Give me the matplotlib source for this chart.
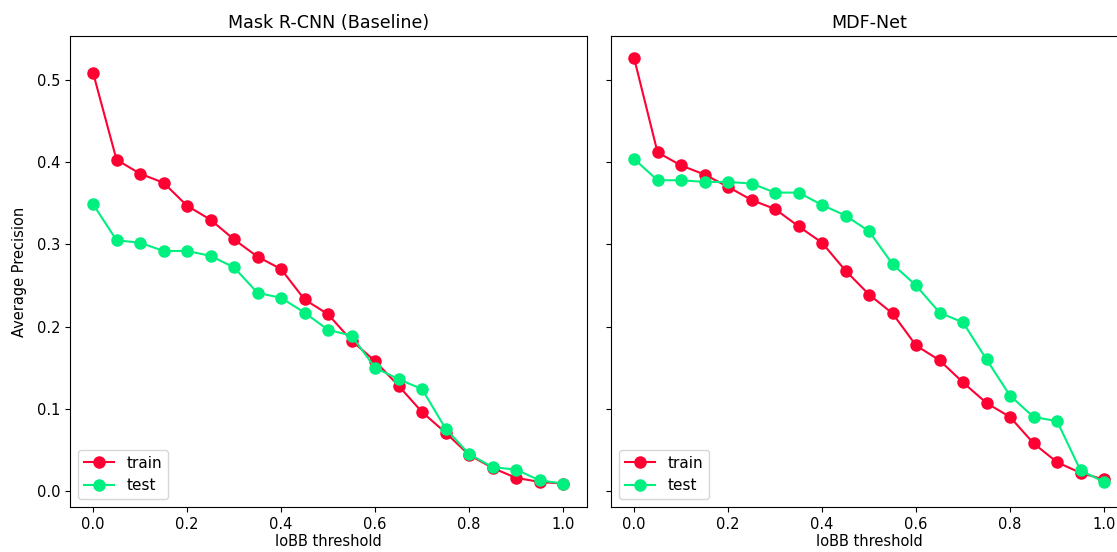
import matplotlib
matplotlib.use("Agg")
import matplotlib.pyplot as plt
import numpy as np

plt.rcParams.update({"font.size": 10.5})

thresholds = np.round(np.arange(0, 1.0001, 0.05), 2)

baseline_train = [0.509, 0.403, 0.386, 0.375, 0.347, 0.330, 0.306, 0.285, 0.270, 0.233,
                  0.215, 0.183, 0.158, 0.128, 0.096, 0.071, 0.044, 0.028, 0.016, 0.011, 0.009]
baseline_test = [0.349, 0.305, 0.302, 0.292, 0.292, 0.286, 0.272, 0.241, 0.235, 0.217,
                 0.196, 0.189, 0.150, 0.136, 0.124, 0.076, 0.045, 0.029, 0.026, 0.013, 0.009]
mdf_train = [0.527, 0.412, 0.396, 0.385, 0.370, 0.354, 0.343, 0.322, 0.302, 0.268,
             0.239, 0.216, 0.177, 0.159, 0.132, 0.107, 0.090, 0.058, 0.035, 0.022, 0.014]
mdf_test = [0.404, 0.378, 0.378, 0.376, 0.376, 0.374, 0.363, 0.363, 0.348, 0.335,
            0.316, 0.276, 0.250, 0.217, 0.205, 0.160, 0.116, 0.090, 0.085, 0.025, 0.011]

panels = [
    ("Mask R-CNN (Baseline)", baseline_train, baseline_test),
    ("MDF-Net", mdf_train, mdf_test),
]

train_color = "#ff0033"
test_color = "#00f080"

fig = plt.figure(figsize=(11.17, 5.52), dpi=100)
ax_w, ax_h, ax_b = 517 / 1117, 471 / 552, 45 / 552
ax1 = fig.add_axes([70 / 1117, ax_b, ax_w, ax_h])
# right panel runs past the image edge, as in the cropped original
ax2 = fig.add_axes([611 / 1117, ax_b, ax_w, ax_h], sharey=ax1)

for ax, (title, train, test) in zip([ax1, ax2], panels):
    ax.plot(thresholds, train, "-o", color=train_color, markersize=8, label="train")
    ax.plot(thresholds, test, "-o", color=test_color, markersize=8, label="test")
    ax.set_title(title, fontsize=12.6)
    ax.set_xlabel("IoBB threshold", labelpad=2)
    ax.set_xlim(-0.049, 1.051)
    ax.legend(loc="lower left", fontsize=11)

ax1.set_ylim(-0.0195, 0.5535)
ax1.set_ylabel("Average Precision", labelpad=7)
ax2.tick_params(labelleft=False)

fig.savefig("out.png", dpi=100)
